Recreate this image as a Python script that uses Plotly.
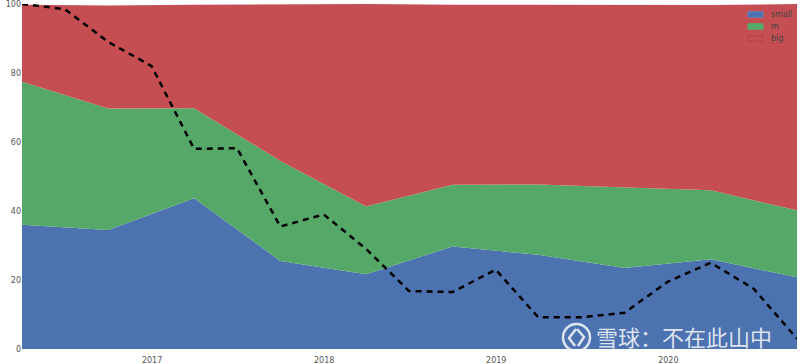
import plotly.graph_objects as go

area_dates = ["2016-03-31", "2016-09-30", "2017-03-31", "2017-09-30", "2018-03-31",
              "2018-09-30", "2019-03-31", "2019-09-30", "2020-03-31", "2020-09-30"]
small = [36.0, 34.5, 43.7, 25.5, 21.7, 29.7, 27.3, 23.5, 26.0, 20.8]
m = [41.5, 35.2, 26.1, 29.0, 19.6, 17.9, 20.4, 23.3, 20.0, 19.4]
big = [22.3, 29.9, 30.0, 45.5, 58.7, 52.2, 52.1, 53.0, 53.7, 59.8]

line_dates = ["2016-03-31", "2016-06-30", "2016-09-30", "2016-12-31", "2017-03-31", "2017-06-30",
              "2017-09-30", "2017-12-31", "2018-03-31", "2018-06-30", "2018-09-30", "2018-12-31",
              "2019-03-31", "2019-06-30", "2019-09-30", "2019-12-31", "2020-03-31", "2020-06-30",
              "2020-09-30"]
line_vals = [100, 98.5, 89, 82, 58, 58.2, 35.5, 39, 29, 16.8, 16.5, 23, 9.2, 9.2, 10.5, 19.5, 25, 17.5, 3]

year_ticks = ["2017-01-01", "2018-01-01", "2019-01-01", "2020-01-01"]
year_labels = ["2017", "2018", "2019", "2020"]
y_ticks = [0, 20, 40, 60, 80, 100]
series = [("small", small, "#4c72b0", "#5f86c4"),
          ("m", m, "#55a868", "#4cb56c"),
          ("big", big, "#c44e52", "#ad4549")]


def px(x):
    return (x - 22) / 775


def py(y):
    return (349 - y) / 345


fig = go.Figure()
for name, vals, color, _ in series:
    fig.add_trace(go.Scatter(x=area_dates, y=vals, name=name, mode="lines", stackgroup="one",
                             fillcolor=color, line=dict(width=0, color=color), showlegend=False))
fig.add_trace(go.Scatter(x=line_dates, y=line_vals, mode="lines", showlegend=False,
                         line=dict(color="black", width=2.5, dash="6px,5px"), cliponaxis=False))

wm = "rgba(255,255,255,0.82)"
shapes = [
    dict(type="circle", xref="paper", yref="paper", x0=px(563), x1=px(590), y0=py(351), y1=py(324),
         line=dict(color=wm, width=2.5)),
    dict(type="path", xref="paper", yref="paper",
         path=f"M {px(576)} {py(329)} L {px(569)} {py(338)} L {px(575)} {py(346)}",
         line=dict(color=wm, width=2.5)),
    dict(type="path", xref="paper", yref="paper",
         path=f"M {px(577)} {py(329)} L {px(584)} {py(337)} L {px(578)} {py(346)}",
         line=dict(color=wm, width=2.5)),
]
annotations = [dict(xref="paper", yref="paper", x=px(684), y=py(336), xanchor="center",
                    yanchor="middle", showarrow=False, text="雪球：不在此山中",
                    font=dict(family="Noto Sans CJK SC", size=22, color=wm))]
for i, (name, _, color, edge) in enumerate(series):
    yc = 14.5 + 12 * i
    shapes.append(dict(type="rect", xref="paper", yref="paper", x0=px(748), x1=px(763),
                       y0=py(yc + 2.7), y1=py(yc - 2.7), fillcolor=color,
                       line=dict(color=edge, width=1)))
    annotations.append(dict(xref="paper", yref="paper", x=px(770), y=py(yc), xanchor="left",
                            yanchor="middle", showarrow=False, text=name, xshift=-1,
                            font=dict(size=8, color="#444444")))

fig.update_layout(
    width=800, height=364, margin=dict(l=22, r=3, t=4, b=15, autoexpand=False),
    paper_bgcolor="white", plot_bgcolor="white", showlegend=False,
    font=dict(family="DejaVu Sans", size=8, color="#555555"),
    xaxis=dict(range=["2016-03-31", "2020-09-30"], tickmode="array", tickvals=year_ticks,
               ticktext=year_labels, showgrid=False, zeroline=False, ticks="outside",
               ticklen=3, tickcolor="rgba(0,0,0,0)", automargin=False, ticklabeloverflow="allow"),
    yaxis=dict(range=[0, 100], tickmode="array", tickvals=y_ticks, showgrid=False,
               zeroline=False, ticks="", ticklen=0, automargin=False, ticklabeloverflow="allow"),
    annotations=annotations,
    shapes=shapes,
)
fig.write_html("out.html", config=dict(displayModeBar=False),
               post_script="document.body.style.margin='0';")
